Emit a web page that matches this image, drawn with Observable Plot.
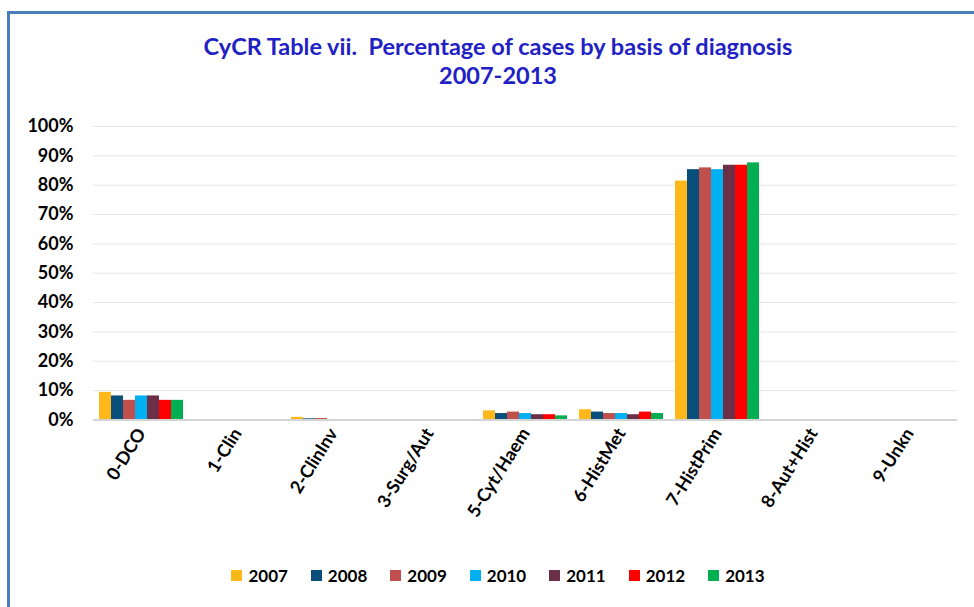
<!DOCTYPE html>
<html><head><meta charset="utf-8">
<script src="https://cdn.jsdelivr.net/npm/d3@7"></script>
<script src="https://cdn.jsdelivr.net/npm/@observablehq/plot@0.6"></script>
<style>
body{margin:0;background:#fff;}
#wrap{position:relative;width:974px;height:607px;overflow:hidden;font-family:Lato,"Open Sans",sans-serif;background:#fff;}
#frame{position:absolute;left:7px;top:11px;right:-10px;bottom:-10px;border-left:3px solid #4a7ebb;border-top:3px solid #4a7ebb;}
#title{position:absolute;top:32px;left:0;width:996px;text-align:center;color:#2121c4;font-weight:bold;font-size:23.5px;line-height:29px;}
#chart{position:absolute;left:0;top:0;}
#chart svg{background:transparent;overflow:visible;}
#chart svg [aria-label^="y-axis"] text{font-size:18px;}
#chart svg [aria-label^="fx-axis"] text{font-size:18px;}
#legend{position:absolute;top:565px;left:0;width:996px;display:flex;justify-content:center;gap:23px;font-weight:bold;font-size:17px;color:#000;}
#legend .it{display:flex;align-items:center;gap:6px;}
#legend .sw{width:11px;height:11px;display:inline-block;}
</style></head>
<body>
<div id="wrap">
  <div id="frame"></div>
  <div id="chart"></div>
  <div id="title">CyCR Table vii.&nbsp; Percentage of cases by basis of diagnosis<br>2007-2013</div>
  <div id="legend"></div>
</div>
<script>
const categories = ["0-DCO","1-Clin","2-ClinInv","3-Surg/Aut","5-Cyt/Haem","6-HistMet","7-HistPrim","8-Aut+Hist","9-Unkn"];
const years = ["2007","2008","2009","2010","2011","2012","2013"];
const colors = ["#FFB819","#0A4F7C","#C0504D","#00B0F0","#6B3048","#FF0000","#00B050"];
const yTicks = [0,10,20,30,40,50,60,70,80,90,100];

const v2007 = [9.4, 0, 0.9, 0, 3.1, 3.5, 81.4, 0, 0];
const v2008 = [8.2, 0, 0.4, 0, 2.2, 2.7, 85.3, 0, 0];
const v2009 = [6.7, 0, 0.5, 0, 2.7, 2.2, 85.9, 0, 0];
const v2010 = [8.2, 0, 0, 0, 2.2, 2.2, 85.3, 0, 0];
const v2011 = [8.2, 0, 0, 0, 1.8, 1.8, 86.8, 0, 0];
const v2012 = [6.7, 0, 0, 0, 1.8, 2.7, 86.8, 0, 0];
const v2013 = [6.7, 0, 0, 0, 1.4, 2.2, 87.6, 0, 0];
const series = [v2007, v2008, v2009, v2010, v2011, v2012, v2013];

const data = [];
categories.forEach((c, i) => years.forEach((y, j) => data.push({category: c, year: y, value: series[j][i]})));

const chart = Plot.plot({
  width: 974,
  height: 607,
  marginTop: 126,
  marginBottom: 187.5,
  marginLeft: 92,
  marginRight: 16,
  style: {fontFamily: "Lato, 'Open Sans', sans-serif", fontSize: "16px", fontWeight: "bold", color: "#000", background: "transparent"},
  fx: {domain: categories, padding: 0, label: null, axis: "bottom", tickSize: 0, tickPadding: 10, tickRotate: -58},
  x: {domain: years, axis: null, paddingInner: 0, paddingOuter: 0.28},
  y: {domain: [0, 100], ticks: yTicks, tickFormat: d => d + "%", tickSize: 0, tickPadding: 20, label: null},
  color: {domain: years, range: colors},
  marks: [
    Plot.ruleY(yTicks.filter(d => d > 0), {stroke: "#e6e6e6", strokeWidth: 1}),
    Plot.barY(data, {fx: "category", x: "year", y: "value", fill: "year"}),
    Plot.ruleY([0], {stroke: "#d4d4d4", strokeWidth: 2})
  ]
});
document.getElementById("chart").appendChild(chart);

const leg = document.getElementById("legend");
years.forEach((y, j) => {
  const it = document.createElement("div");
  it.className = "it";
  it.innerHTML = `<span class="sw" style="background:${colors[j]}"></span><span>${y}</span>`;
  leg.appendChild(it);
});
</script>
</body></html>
